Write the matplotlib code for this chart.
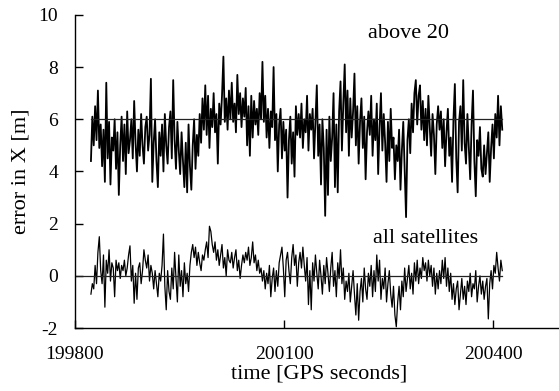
"""
Position error in X over time: satellites above 20 deg vs all satellites
"""
import numpy as np
import matplotlib
matplotlib.use('Agg')
import matplotlib.pyplot as plt

# time axis, one sample every 2 GPS seconds
t_start = 199823
t_step = 2

# error in X [m], satellites above 20 deg elevation
above_20 = [
    4.4, 6.1, 5.0, 6.5, 5.2, 7.1, 4.9, 5.8, 4.2, 5.6,
    3.6, 7.4, 4.5, 5.9, 3.5, 5.3, 4.8, 6.0, 4.1, 5.5,
    3.1, 5.0, 6.1, 4.4, 5.8, 3.9, 6.3, 4.7, 5.2, 6.0,
    4.5, 6.7, 5.1, 4.0, 5.6, 4.6, 6.2, 5.0, 4.3, 5.7,
    6.1, 4.8, 5.4, 7.55, 3.6, 5.1, 6.0, 4.4, 3.4, 5.5,
    4.6, 5.8, 4.0, 6.2, 5.0, 4.3, 5.7, 6.3, 4.5, 7.5,
    5.2, 4.1, 5.9, 4.8, 3.9, 5.5, 4.4, 3.4, 5.1, 3.2,
    5.8, 4.2, 3.3, 5.0, 6.0, 4.1, 5.4, 4.6, 6.2, 5.1,
    6.8, 5.6, 7.3, 5.4, 6.9, 4.9, 6.4, 5.7, 7.0, 5.5,
    6.2, 4.3, 6.6, 5.8, 6.9, 8.4, 5.9, 6.8, 5.6, 7.1,
    6.0, 7.4, 5.9, 6.6, 5.5, 7.7, 6.2, 7.0, 5.7, 6.8,
    6.1, 7.2, 5.0, 6.5, 4.6, 6.9, 5.3, 6.7, 5.8, 6.4,
    5.4, 7.0, 6.0, 8.2, 5.9, 6.9, 5.3, 6.4, 4.9, 6.3,
    5.7, 8.0, 5.2, 6.2, 4.0, 5.8, 6.4, 4.5, 5.9, 4.8,
    5.6, 3.0, 5.2, 6.1, 4.3, 5.5, 3.8, 6.5, 5.4, 6.2,
    5.3, 6.6, 4.9, 6.0, 5.5, 6.9, 4.8, 6.2, 5.6, 6.4,
    4.5, 5.9, 7.3, 4.6, 5.8, 3.5, 6.0, 4.9, 2.3, 5.6,
    3.1, 6.1, 4.4, 5.3, 7.0, 3.4, 5.8, 3.2, 6.3, 7.45,
    4.8, 6.6, 8.1, 5.5, 7.1, 4.6, 6.8, 5.3, 6.3, 7.75,
    5.0, 6.5, 4.3, 5.9, 6.8, 4.9, 6.1, 3.7, 5.5, 6.3,
    5.4, 6.9, 4.6, 6.0, 5.2, 6.6, 3.9, 5.7, 7.0, 4.8,
    6.2, 5.1, 3.6, 5.9, 4.4, 6.4, 4.9, 5.3, 3.7, 5.0,
    4.4, 5.6, 3.3, 4.8, 5.9, 4.1, 2.25, 5.2, 6.0, 4.7,
    6.6, 5.5, 7.0, 7.5, 5.8, 6.9, 7.3, 5.6, 6.7, 5.2,
    6.4, 5.0, 6.9, 5.7, 4.6, 6.2, 5.4, 3.9, 5.8, 6.5,
    5.6, 6.3, 4.9, 6.0, 4.2, 5.5, 6.4, 4.6, 5.3, 3.6,
    6.0, 7.35, 4.5, 3.2, 5.9, 6.5, 4.8, 7.5, 5.1, 4.3,
    6.2, 4.9, 3.7, 5.8, 7.1, 4.4, 3.05, 5.2, 4.6, 5.7,
    4.1, 3.8, 5.0, 3.9, 4.7, 5.5, 3.6, 4.9, 5.8, 4.5,
    6.2, 5.3, 6.9, 5.0, 6.5, 5.6,
]

# error in X [m], all satellites
all_sats = [
    -0.7, -0.3, -0.5, 0.4, -0.3, 0.9, 1.5, 0.2, -0.3, 0.8,
    -1.2, 0.6, 0.1, 1.0, -0.2, 0.5, 0.3, -0.8, 0.6, 0.2,
    0.5, -0.1, 0.4, 0.2, 0.6, 0.0, 0.3, 0.8, 1.15, -0.2,
    0.4, -1.05, 0.1, -0.9, 0.3, 0.5, -0.3, 0.2, 1.0, 0.6,
    0.3, 0.8, -0.2, 0.4, 0.1, -0.5, 0.2, -0.3, -0.8, 0.1,
    -0.2, 0.4, 1.6, -0.4, -1.3, 0.2, -0.6, -0.9, 0.3, -0.5,
    0.9, -0.1, -1.0, 0.8, -0.4, 0.2, -0.8, 0.5, -0.3, 0.1,
    -0.6, 0.4, 0.9, 1.2, 0.7, 1.1, 0.4, 0.9, 0.5, 0.2,
    0.8, 0.6, 1.0, 1.3, 0.7, 1.9, 1.7, 1.2, 0.9, 1.3,
    0.6, 1.0, 0.4, 0.8, 1.2, 0.3, 0.7, 0.0, 1.0, 0.6,
    0.5, 0.9, 0.3, 0.7, 1.0, 0.2, 0.6, -0.1, 0.4, 0.8,
    0.5, 0.9, 0.6, 1.1, 0.4, 0.7, 1.3, 0.5, 0.8, 0.2,
    0.6, 0.1, 0.3, -0.2, 0.2, -0.5, 0.1, -0.3, 0.4, -0.8,
    -0.1, 0.3, -0.6, 0.2, -0.4, 0.5, 0.8, 1.1, 0.3, -0.8,
    0.6, 0.9, 0.2, -0.3, 0.7, 1.2, 0.4, 0.8, -0.4, 0.5,
    0.9, 0.3, 1.1, 0.4, -0.2, 0.7, -1.1, 0.2, -1.3, 0.5,
    -0.2, 0.8, 0.1, -0.5, 0.6, 0.0, -0.7, 0.4, -0.3, 0.7,
    0.1, -0.6, 0.3, 0.9, -0.4, 0.2, -0.8, 0.5, -0.1, 1.0,
    -0.3, 0.3, -0.9, -0.2, -0.6, 0.1, -1.0, -0.4, 0.2, -0.7,
    -1.5, -0.3, -1.7, -0.6, -0.1, -1.0, 0.3, -0.5, -0.9, 0.1,
    -0.4, 0.4, -0.8, 0.2, -0.6, 0.8, -0.2, 0.6, -0.9, -0.1,
    -0.5, 0.3, -1.0, -0.3, 0.2, -0.7, -1.2, -0.4, -1.5, -1.95,
    -1.0, -0.4, -1.3, -0.2, -0.8, 0.3, -0.6, -0.1, 0.4, -0.5,
    0.1, -0.7, 0.5, -0.2, 0.6, -0.3, 0.3, -0.1, 0.7, 0.2,
    0.5, -0.2, 0.6, 0.0, 0.4, -0.4, 0.3, -0.7, 0.1, -0.5,
    0.2, -0.3, 0.6, -0.1, 0.7, -0.4, 0.3, -0.6, 0.1, -0.9,
    -0.3, -1.1, -0.5, -0.2, -1.3, -0.7, -0.1, -0.9, -0.4, -1.1,
    -0.2, -0.6, 0.1, -0.8, -0.3, -0.5, 0.2, -1.0, -0.4, 0.0,
    -0.7, -0.2, -0.9, -0.4, -0.1, -1.65, -0.3, 0.2, -0.5, 0.4,
    0.1, 0.9, 0.3, -0.2, 0.6, 0.2,
]

# reference levels
ref_above = 6.0
ref_all = 0.0

x_ticks = [199800, 200100, 200400]
y_ticks = [-2, 0, 2, 4, 6, 8, 10]

plt.rcParams['font.family'] = ['Liberation Serif', 'DejaVu Serif']
plt.rcParams['font.size'] = 14

time = t_start + t_step * np.arange(len(above_20))

fig = plt.figure(figsize=(5.59, 3.91), dpi=100)
ax = fig.add_axes([0.134, 0.161, 0.873, 0.801])

ax.plot(time, above_20, color='black', linewidth=1.3)
ax.plot(time, all_sats, color='black', linewidth=0.9)
ax.plot([time[0], time[-1]], [ref_above, ref_above], color='#222222', linewidth=0.9)
ax.plot([x_ticks[0], time[-1]], [ref_all, ref_all], color='#222222', linewidth=0.9)

ax.text(200278, 9.3, 'above 20', ha='center', va='center', fontsize=16)
ax.text(200303, 1.45, 'all satellites', ha='center', va='center', fontsize=16)

ax.set_xlim(199800, 200500)
ax.set_ylim(-2, 10)
ax.set_xticks(x_ticks)
ax.set_yticks(y_ticks)
ax.set_xticklabels([str(v) for v in x_ticks])
ax.set_yticklabels([str(v) for v in y_ticks])

ax.spines['top'].set_visible(False)
ax.spines['right'].set_visible(False)
ax.spines['left'].set_linewidth(1.0)
ax.spines['bottom'].set_linewidth(1.0)
ax.tick_params(axis='y', direction='in', length=6, width=1.0, pad=12)
ax.tick_params(axis='x', direction='in', length=6, width=1.0, pad=13)

ax.set_xlabel('time [GPS seconds]', fontsize=16, labelpad=1)
ax.set_ylabel('error in X [m]', fontsize=16, labelpad=6)

plt.savefig('out.png', dpi=100)
plt.close()
